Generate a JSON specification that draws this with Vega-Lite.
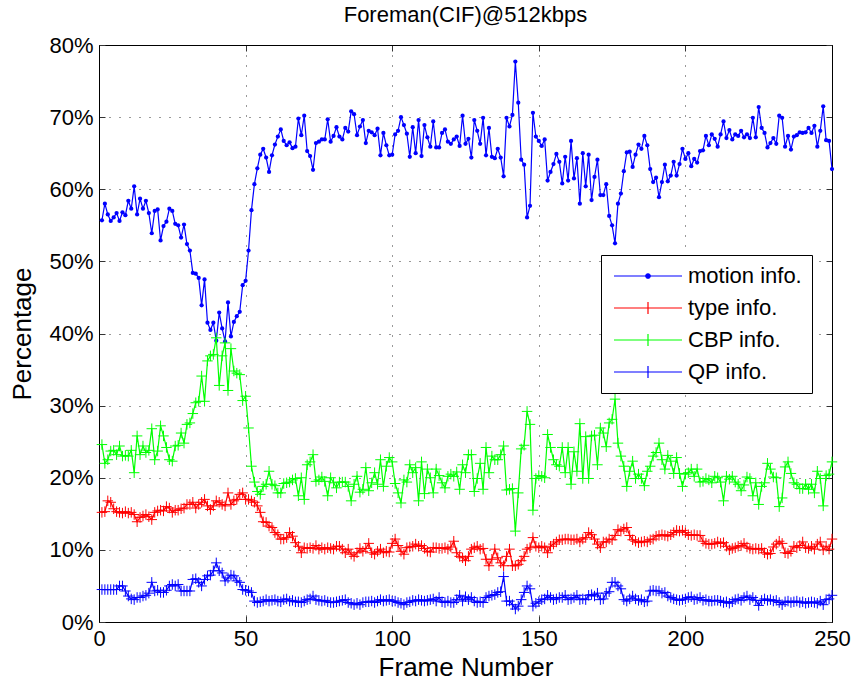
{
"$schema": "https://vega.github.io/schema/vega-lite/v6.json",
"width": 733, "height": 577,
"autosize": {"type": "none"},
"padding": {"left": 99, "top": 45, "right": 19, "bottom": 67},
"background": "white",
"config": {"view": {"stroke": "black", "strokeWidth": 1}, "font": "Liberation Sans"},
"title": {"text": "Foreman(CIF)@512kbps", "fontSize": 22, "font": "Liberation Sans", "fontWeight": "normal", "color": "black", "offset": 7},
"datasets": {
"m": [{"f":1,"v":55.7},{"f":2,"v":58.0},{"f":3,"v":56.5},{"f":4,"v":55.6},{"f":5,"v":56.1},{"f":6,"v":56.7},{"f":7,"v":55.6},{"f":8,"v":56.8},{"f":9,"v":56.4},{"f":10,"v":58.4},
{"f":11,"v":57.3},{"f":12,"v":60.4},{"f":13,"v":56.5},{"f":14,"v":58.7},{"f":15,"v":57.3},{"f":16,"v":58.4},{"f":17,"v":56.7},{"f":18,"v":53.9},{"f":19,"v":57.0},{"f":20,"v":57.2},
{"f":21,"v":52.9},{"f":22,"v":54.9},{"f":23,"v":55.5},{"f":24,"v":57.3},{"f":25,"v":57.0},{"f":26,"v":55.2},{"f":27,"v":55.0},{"f":28,"v":53.3},{"f":29,"v":55.1},{"f":30,"v":52.4},
{"f":31,"v":51.5},{"f":32,"v":48.4},{"f":33,"v":48.3},{"f":34,"v":47.7},{"f":35,"v":43.9},{"f":36,"v":47.5},{"f":37,"v":41.5},{"f":38,"v":40.5},{"f":39,"v":41.5},{"f":40,"v":39.0},
{"f":41,"v":42.9},{"f":42,"v":40.7},{"f":43,"v":38.9},{"f":44,"v":44.3},{"f":45,"v":39.6},{"f":46,"v":41.6},{"f":47,"v":42.4},{"f":48,"v":43.0},{"f":49,"v":46.7},{"f":50,"v":47.3},
{"f":51,"v":51.5},{"f":52,"v":57.1},{"f":53,"v":60.7},{"f":54,"v":62.9},{"f":55,"v":64.8},{"f":56,"v":65.6},{"f":57,"v":64.4},{"f":58,"v":62.4},{"f":59,"v":64.7},{"f":60,"v":66.2},
{"f":61,"v":67.3},{"f":62,"v":68.3},{"f":63,"v":66.7},{"f":64,"v":66.1},{"f":65,"v":66.5},{"f":66,"v":65.7},{"f":67,"v":65.9},{"f":68,"v":69.8},{"f":69,"v":67.5},{"f":70,"v":70.2},
{"f":71,"v":65.3},{"f":72,"v":64.6},{"f":73,"v":62.7},{"f":74,"v":66.4},{"f":75,"v":66.6},{"f":76,"v":66.9},{"f":77,"v":66.9},{"f":78,"v":69.7},{"f":79,"v":66.6},{"f":80,"v":67.4},
{"f":81,"v":68.6},{"f":82,"v":67.3},{"f":83,"v":66.9},{"f":84,"v":68.5},{"f":85,"v":68.0},{"f":86,"v":70.8},{"f":87,"v":70.4},{"f":88,"v":67.5},{"f":89,"v":68.7},{"f":90,"v":69.6},
{"f":91,"v":66.4},{"f":92,"v":68.1},{"f":93,"v":67.9},{"f":94,"v":67.5},{"f":95,"v":68.4},{"f":96,"v":64.7},{"f":97,"v":67.8},{"f":98,"v":66.1},{"f":99,"v":64.7},{"f":100,"v":64.8},
{"f":101,"v":67.6},{"f":102,"v":68.1},{"f":103,"v":70.0},{"f":104,"v":68.9},{"f":105,"v":67.7},{"f":106,"v":64.5},{"f":107,"v":68.6},{"f":108,"v":65.0},{"f":109,"v":69.6},{"f":110,"v":64.6},
{"f":111,"v":68.9},{"f":112,"v":67.2},{"f":113,"v":65.9},{"f":114,"v":69.4},{"f":115,"v":65.8},{"f":116,"v":65.8},{"f":117,"v":67.8},{"f":118,"v":68.3},{"f":119,"v":66.6},{"f":120,"v":66.3},
{"f":121,"v":66.9},{"f":122,"v":67.3},{"f":123,"v":66.0},{"f":124,"v":70.2},{"f":125,"v":66.3},{"f":126,"v":67.0},{"f":127,"v":64.4},{"f":128,"v":69.6},{"f":129,"v":68.1},{"f":130,"v":66.3},
{"f":131,"v":69.9},{"f":132,"v":64.7},{"f":133,"v":68.5},{"f":134,"v":64.5},{"f":135,"v":64.3},{"f":136,"v":65.6},{"f":137,"v":64.4},{"f":138,"v":61.8},{"f":139,"v":69.9},{"f":140,"v":68.7},
{"f":141,"v":70.3},{"f":142,"v":77.7},{"f":143,"v":72.0},{"f":144,"v":64.1},{"f":145,"v":63.4},{"f":146,"v":56.1},{"f":147,"v":57.7},{"f":148,"v":70.6},{"f":149,"v":67.3},{"f":150,"v":66.7},
{"f":151,"v":66.0},{"f":152,"v":66.9},{"f":153,"v":61.2},{"f":154,"v":62.4},{"f":155,"v":63.5},{"f":156,"v":64.9},{"f":157,"v":63.8},{"f":158,"v":60.8},{"f":159,"v":64.5},{"f":160,"v":61.2},
{"f":161,"v":66.7},{"f":162,"v":61.5},{"f":163,"v":64.3},{"f":164,"v":58.0},{"f":165,"v":65.0},{"f":166,"v":60.4},{"f":167,"v":64.8},{"f":168,"v":58.5},{"f":169,"v":61.7},{"f":170,"v":64.1},
{"f":171,"v":59.2},{"f":172,"v":59.2},{"f":173,"v":60.7},{"f":174,"v":56.3},{"f":175,"v":55.0},{"f":176,"v":52.5},{"f":177,"v":58.0},{"f":178,"v":59.4},{"f":179,"v":62.5},{"f":180,"v":65.1},
{"f":181,"v":65.2},{"f":182,"v":63.1},{"f":183,"v":64.8},{"f":184,"v":66.2},{"f":185,"v":65.6},{"f":186,"v":67.4},{"f":187,"v":66.1},{"f":188,"v":62.8},{"f":189,"v":61.0},{"f":190,"v":61.6},
{"f":191,"v":58.9},{"f":192,"v":61.0},{"f":193,"v":63.4},{"f":194,"v":61.1},{"f":195,"v":61.9},{"f":196,"v":63.8},{"f":197,"v":61.9},{"f":198,"v":63.5},{"f":199,"v":65.6},{"f":200,"v":64.2},
{"f":201,"v":65.0},{"f":202,"v":63.2},{"f":203,"v":64.2},{"f":204,"v":63.7},{"f":205,"v":65.3},{"f":206,"v":65.4},{"f":207,"v":67.4},{"f":208,"v":66.1},{"f":209,"v":67.6},{"f":210,"v":67.0},
{"f":211,"v":65.9},{"f":212,"v":67.6},{"f":213,"v":69.4},{"f":214,"v":67.1},{"f":215,"v":68.2},{"f":216,"v":66.9},{"f":217,"v":67.6},{"f":218,"v":67.4},{"f":219,"v":68.1},{"f":220,"v":67.2},
{"f":221,"v":67.6},{"f":222,"v":67.1},{"f":223,"v":69.9},{"f":224,"v":67.2},{"f":225,"v":71.4},{"f":226,"v":68.5},{"f":227,"v":67.8},{"f":228,"v":65.8},{"f":229,"v":66.4},{"f":230,"v":67.1},
{"f":231,"v":66.3},{"f":232,"v":70.2},{"f":233,"v":69.9},{"f":234,"v":65.9},{"f":235,"v":67.4},{"f":236,"v":65.5},{"f":237,"v":67.3},{"f":238,"v":67.5},{"f":239,"v":67.9},{"f":240,"v":67.8},
{"f":241,"v":67.9},{"f":242,"v":68.5},{"f":243,"v":67.8},{"f":244,"v":68.8},{"f":245,"v":65.9},{"f":246,"v":68.1},{"f":247,"v":71.5},{"f":248,"v":66.8},{"f":249,"v":66.7},{"f":250,"v":62.8}],
"t": [{"f":1,"v":15.2},{"f":2,"v":15.3},{"f":3,"v":16.8},{"f":4,"v":16.6},{"f":5,"v":15.7},{"f":6,"v":15.3},{"f":7,"v":15.2},{"f":8,"v":15.1},{"f":9,"v":15.3},{"f":10,"v":15.1},
{"f":11,"v":15.2},{"f":12,"v":14.9},{"f":13,"v":13.9},{"f":14,"v":14.5},{"f":15,"v":14.7},{"f":16,"v":14.9},{"f":17,"v":14.6},{"f":18,"v":14.2},{"f":19,"v":15.2},{"f":20,"v":15.4},
{"f":21,"v":15.5},{"f":22,"v":15.4},{"f":23,"v":16.0},{"f":24,"v":15.8},{"f":25,"v":15.2},{"f":26,"v":15.5},{"f":27,"v":15.5},{"f":28,"v":15.7},{"f":29,"v":15.8},{"f":30,"v":16.3},
{"f":31,"v":16.3},{"f":32,"v":16.6},{"f":33,"v":15.8},{"f":34,"v":16.3},{"f":35,"v":16.6},{"f":36,"v":17.0},{"f":37,"v":16.1},{"f":38,"v":15.6},{"f":39,"v":16.1},{"f":40,"v":16.8},
{"f":41,"v":16.6},{"f":42,"v":16.3},{"f":43,"v":16.1},{"f":44,"v":17.9},{"f":45,"v":16.3},{"f":46,"v":16.8},{"f":47,"v":17.0},{"f":48,"v":17.7},{"f":49,"v":17.9},{"f":50,"v":17.0},
{"f":51,"v":17.0},{"f":52,"v":16.8},{"f":53,"v":16.6},{"f":54,"v":16.1},{"f":55,"v":15.2},{"f":56,"v":13.9},{"f":57,"v":13.8},{"f":58,"v":13.3},{"f":59,"v":13.1},{"f":60,"v":12.4},
{"f":61,"v":12.1},{"f":62,"v":11.5},{"f":63,"v":11.5},{"f":64,"v":11.7},{"f":65,"v":12.4},{"f":66,"v":11.9},{"f":67,"v":11.0},{"f":68,"v":10.5},{"f":69,"v":9.6},{"f":70,"v":10.3},
{"f":71,"v":10.2},{"f":72,"v":10.3},{"f":73,"v":10.2},{"f":74,"v":10.6},{"f":75,"v":10.1},{"f":76,"v":10.3},{"f":77,"v":10.1},{"f":78,"v":10.3},{"f":79,"v":10.2},{"f":80,"v":10.1},
{"f":81,"v":10.5},{"f":82,"v":10.5},{"f":83,"v":10.1},{"f":84,"v":9.6},{"f":85,"v":10.1},{"f":86,"v":9.4},{"f":87,"v":9.1},{"f":88,"v":9.6},{"f":89,"v":10.2},{"f":90,"v":9.8},
{"f":91,"v":10.2},{"f":92,"v":10.9},{"f":93,"v":9.6},{"f":94,"v":9.4},{"f":95,"v":9.8},{"f":96,"v":10.1},{"f":97,"v":9.6},{"f":98,"v":9.8},{"f":99,"v":9.7},{"f":100,"v":10.9},
{"f":101,"v":11.5},{"f":102,"v":10.6},{"f":103,"v":9.8},{"f":104,"v":9.4},{"f":105,"v":10.3},{"f":106,"v":10.4},{"f":107,"v":10.5},{"f":108,"v":10.8},{"f":109,"v":10.5},{"f":110,"v":10.6},
{"f":111,"v":10.2},{"f":112,"v":9.8},{"f":113,"v":9.7},{"f":114,"v":10.3},{"f":115,"v":10.3},{"f":116,"v":10.2},{"f":117,"v":10.2},{"f":118,"v":10.3},{"f":119,"v":10.1},{"f":120,"v":10.4},
{"f":121,"v":11.2},{"f":122,"v":9.6},{"f":123,"v":9.1},{"f":124,"v":8.9},{"f":125,"v":8.5},{"f":126,"v":9.1},{"f":127,"v":10.1},{"f":128,"v":10.3},{"f":129,"v":10.5},{"f":130,"v":10.1},
{"f":131,"v":10.2},{"f":132,"v":8.7},{"f":133,"v":7.8},{"f":134,"v":8.7},{"f":135,"v":10.1},{"f":136,"v":8.9},{"f":137,"v":8.2},{"f":138,"v":7.8},{"f":139,"v":9.1},{"f":140,"v":10.1},
{"f":141,"v":7.8},{"f":142,"v":7.8},{"f":143,"v":8.0},{"f":144,"v":8.5},{"f":145,"v":9.1},{"f":146,"v":10.1},{"f":147,"v":10.3},{"f":148,"v":11.7},{"f":149,"v":10.5},{"f":150,"v":10.3},
{"f":151,"v":10.5},{"f":152,"v":10.3},{"f":153,"v":9.6},{"f":154,"v":10.5},{"f":155,"v":10.8},{"f":156,"v":11.1},{"f":157,"v":11.4},{"f":158,"v":11.4},{"f":159,"v":11.5},{"f":160,"v":11.5},
{"f":161,"v":11.4},{"f":162,"v":11.4},{"f":163,"v":11.5},{"f":164,"v":11.1},{"f":165,"v":11.5},{"f":166,"v":11.7},{"f":167,"v":12.4},{"f":168,"v":12.1},{"f":169,"v":11.5},{"f":170,"v":10.8},
{"f":171,"v":10.3},{"f":172,"v":11.1},{"f":173,"v":11.1},{"f":174,"v":11.5},{"f":175,"v":11.4},{"f":176,"v":12.0},{"f":177,"v":12.8},{"f":178,"v":12.6},{"f":179,"v":12.9},{"f":180,"v":13.1},
{"f":181,"v":12.0},{"f":182,"v":11.4},{"f":183,"v":11.2},{"f":184,"v":11.0},{"f":185,"v":11.1},{"f":186,"v":11.2},{"f":187,"v":11.1},{"f":188,"v":11.4},{"f":189,"v":11.5},{"f":190,"v":11.9},
{"f":191,"v":12.0},{"f":192,"v":12.1},{"f":193,"v":12.0},{"f":194,"v":11.9},{"f":195,"v":12.1},{"f":196,"v":12.4},{"f":197,"v":12.7},{"f":198,"v":12.6},{"f":199,"v":12.7},{"f":200,"v":12.4},
{"f":201,"v":12.1},{"f":202,"v":12.0},{"f":203,"v":12.1},{"f":204,"v":12.0},{"f":205,"v":12.0},{"f":206,"v":11.2},{"f":207,"v":10.9},{"f":208,"v":10.8},{"f":209,"v":10.8},{"f":210,"v":10.9},
{"f":211,"v":11.1},{"f":212,"v":10.9},{"f":213,"v":11.0},{"f":214,"v":10.5},{"f":215,"v":10.0},{"f":216,"v":10.2},{"f":217,"v":10.3},{"f":218,"v":10.5},{"f":219,"v":10.6},{"f":220,"v":10.9},
{"f":221,"v":10.4},{"f":222,"v":10.2},{"f":223,"v":10.1},{"f":224,"v":10.2},{"f":225,"v":10.1},{"f":226,"v":10.2},{"f":227,"v":9.6},{"f":228,"v":9.4},{"f":229,"v":9.5},{"f":230,"v":10.4},
{"f":231,"v":10.8},{"f":232,"v":11.2},{"f":233,"v":10.9},{"f":234,"v":9.6},{"f":235,"v":9.5},{"f":236,"v":9.8},{"f":237,"v":10.5},{"f":238,"v":10.3},{"f":239,"v":10.6},{"f":240,"v":11.1},
{"f":241,"v":10.3},{"f":242,"v":10.2},{"f":243,"v":10.5},{"f":244,"v":10.1},{"f":245,"v":10.8},{"f":246,"v":11.1},{"f":247,"v":10.0},{"f":248,"v":10.5},{"f":249,"v":10.1},{"f":250,"v":11.5}],
"c": [{"f":1,"v":24.6},{"f":2,"v":22.0},{"f":3,"v":22.5},{"f":4,"v":23.7},{"f":5,"v":23.8},{"f":6,"v":23.2},{"f":7,"v":24.4},{"f":8,"v":23.0},{"f":9,"v":23.1},{"f":10,"v":23.0},
{"f":11,"v":23.8},{"f":12,"v":20.7},{"f":13,"v":25.8},{"f":14,"v":23.2},{"f":15,"v":24.4},{"f":16,"v":23.5},{"f":17,"v":23.8},{"f":18,"v":26.8},{"f":19,"v":22.5},{"f":20,"v":23.7},
{"f":21,"v":27.2},{"f":22,"v":25.8},{"f":23,"v":24.2},{"f":24,"v":22.5},{"f":25,"v":22.3},{"f":26,"v":24.4},{"f":27,"v":24.5},{"f":28,"v":26.2},{"f":29,"v":24.8},{"f":30,"v":27.4},
{"f":31,"v":27.6},{"f":32,"v":28.9},{"f":33,"v":30.4},{"f":34,"v":30.6},{"f":35,"v":34.1},{"f":36,"v":30.6},{"f":37,"v":36.2},{"f":38,"v":36.9},{"f":39,"v":37.1},{"f":40,"v":39.4},
{"f":41,"v":32.8},{"f":42,"v":36.9},{"f":43,"v":38.7},{"f":44,"v":32.1},{"f":45,"v":37.9},{"f":46,"v":34.8},{"f":47,"v":34.5},{"f":48,"v":34.3},{"f":49,"v":30.7},{"f":50,"v":31.3},
{"f":51,"v":26.9},{"f":52,"v":21.6},{"f":53,"v":19.4},{"f":54,"v":18.1},{"f":55,"v":17.7},{"f":56,"v":18.8},{"f":57,"v":19.1},{"f":58,"v":20.9},{"f":59,"v":19.1},{"f":60,"v":18.9},
{"f":61,"v":17.9},{"f":62,"v":17.9},{"f":63,"v":19.2},{"f":64,"v":19.3},{"f":65,"v":19.4},{"f":66,"v":19.7},{"f":67,"v":19.9},{"f":68,"v":17.5},{"f":69,"v":20.0},{"f":70,"v":17.0},
{"f":71,"v":21.8},{"f":72,"v":22.2},{"f":73,"v":23.2},{"f":74,"v":19.5},{"f":75,"v":19.7},{"f":76,"v":20.1},{"f":77,"v":19.5},{"f":78,"v":17.5},{"f":79,"v":20.0},{"f":80,"v":19.3},
{"f":81,"v":18.6},{"f":82,"v":19.4},{"f":83,"v":19.4},{"f":84,"v":19.4},{"f":85,"v":18.8},{"f":86,"v":16.8},{"f":87,"v":19.1},{"f":88,"v":20.2},{"f":89,"v":18.0},{"f":90,"v":18.4},
{"f":91,"v":21.4},{"f":92,"v":18.2},{"f":93,"v":19.3},{"f":94,"v":20.7},{"f":95,"v":19.1},{"f":96,"v":22.5},{"f":97,"v":18.8},{"f":98,"v":21.6},{"f":99,"v":22.8},{"f":100,"v":22.2},
{"f":101,"v":19.2},{"f":102,"v":17.9},{"f":103,"v":16.5},{"f":104,"v":19.7},{"f":105,"v":19.4},{"f":106,"v":21.8},{"f":107,"v":20.7},{"f":108,"v":21.4},{"f":109,"v":16.8},{"f":110,"v":22.2},
{"f":111,"v":17.8},{"f":112,"v":21.2},{"f":113,"v":20.0},{"f":114,"v":17.9},{"f":115,"v":21.2},{"f":116,"v":20.3},{"f":117,"v":19.3},{"f":118,"v":18.6},{"f":119,"v":20.2},{"f":120,"v":20.5},
{"f":121,"v":20.2},{"f":122,"v":20.8},{"f":123,"v":18.4},{"f":124,"v":21.8},{"f":125,"v":20.7},{"f":126,"v":23.2},{"f":127,"v":23.2},{"f":128,"v":18.1},{"f":129,"v":19.9},{"f":130,"v":22.0},
{"f":131,"v":18.4},{"f":132,"v":24.2},{"f":133,"v":20.7},{"f":134,"v":23.0},{"f":135,"v":22.5},{"f":136,"v":22.5},{"f":137,"v":23.2},{"f":138,"v":24.4},{"f":139,"v":18.3},{"f":140,"v":18.4},
{"f":141,"v":18.5},{"f":142,"v":12.6},{"f":143,"v":17.9},{"f":144,"v":24.0},{"f":145,"v":24.5},{"f":146,"v":29.2},{"f":147,"v":27.4},{"f":148,"v":15.5},{"f":149,"v":19.9},{"f":150,"v":20.3},
{"f":151,"v":20.2},{"f":152,"v":20.0},{"f":153,"v":26.0},{"f":154,"v":24.2},{"f":155,"v":22.5},{"f":156,"v":21.8},{"f":157,"v":21.6},{"f":158,"v":24.2},{"f":159,"v":20.7},{"f":160,"v":24.2},
{"f":161,"v":19.1},{"f":162,"v":23.6},{"f":163,"v":20.9},{"f":164,"v":27.5},{"f":165,"v":19.9},{"f":166,"v":25.7},{"f":167,"v":19.9},{"f":168,"v":25.8},{"f":169,"v":25.9},{"f":170,"v":21.8},
{"f":171,"v":26.9},{"f":172,"v":26.2},{"f":173,"v":24.3},{"f":174,"v":27.6},{"f":175,"v":28.1},{"f":176,"v":30.9},{"f":177,"v":24.8},{"f":178,"v":23.0},{"f":179,"v":21.6},{"f":180,"v":18.8},
{"f":181,"v":20.9},{"f":182,"v":22.3},{"f":183,"v":19.9},{"f":184,"v":20.5},{"f":185,"v":19.9},{"f":186,"v":18.9},{"f":187,"v":20.9},{"f":188,"v":21.6},{"f":189,"v":23.0},{"f":190,"v":23.5},
{"f":191,"v":24.8},{"f":192,"v":22.5},{"f":193,"v":21.2},{"f":194,"v":23.1},{"f":195,"v":22.3},{"f":196,"v":20.6},{"f":197,"v":22.8},{"f":198,"v":20.6},{"f":199,"v":18.8},{"f":200,"v":20.5},
{"f":201,"v":20.7},{"f":202,"v":21.2},{"f":203,"v":20.2},{"f":204,"v":21.2},{"f":205,"v":19.4},{"f":206,"v":19.5},{"f":207,"v":19.9},{"f":208,"v":19.7},{"f":209,"v":19.3},{"f":210,"v":20.2},
{"f":211,"v":20.0},{"f":212,"v":19.4},{"f":213,"v":16.8},{"f":214,"v":20.2},{"f":215,"v":19.8},{"f":216,"v":20.2},{"f":217,"v":19.4},{"f":218,"v":19.1},{"f":219,"v":18.2},{"f":220,"v":19.0},
{"f":221,"v":20.1},{"f":222,"v":19.9},{"f":223,"v":17.5},{"f":224,"v":19.3},{"f":225,"v":16.3},{"f":226,"v":18.8},{"f":227,"v":19.3},{"f":228,"v":22.0},{"f":229,"v":21.2},{"f":230,"v":20.1},
{"f":231,"v":20.0},{"f":232,"v":16.0},{"f":233,"v":17.2},{"f":234,"v":21.5},{"f":235,"v":22.2},{"f":236,"v":20.6},{"f":237,"v":19.3},{"f":238,"v":19.1},{"f":239,"v":18.5},{"f":240,"v":18.5},
{"f":241,"v":19.1},{"f":242,"v":18.4},{"f":243,"v":19.1},{"f":244,"v":17.9},{"f":245,"v":20.9},{"f":246,"v":19.9},{"f":247,"v":16.1},{"f":248,"v":20.3},{"f":249,"v":20.5},{"f":250,"v":22.2}],
"q": [{"f":1,"v":4.5},{"f":2,"v":4.5},{"f":3,"v":4.5},{"f":4,"v":4.5},{"f":5,"v":4.5},{"f":6,"v":4.5},{"f":7,"v":5.0},{"f":8,"v":5.0},{"f":9,"v":4.3},{"f":10,"v":3.6},
{"f":11,"v":3.2},{"f":12,"v":3.1},{"f":13,"v":3.4},{"f":14,"v":3.4},{"f":15,"v":3.6},{"f":16,"v":3.7},{"f":17,"v":4.0},{"f":18,"v":5.5},{"f":19,"v":4.3},{"f":20,"v":4.4},
{"f":21,"v":4.1},{"f":22,"v":4.1},{"f":23,"v":4.4},{"f":24,"v":5.0},{"f":25,"v":5.2},{"f":26,"v":5.0},{"f":27,"v":5.2},{"f":28,"v":4.3},{"f":29,"v":4.3},{"f":30,"v":4.3},
{"f":31,"v":4.3},{"f":32,"v":5.9},{"f":33,"v":6.0},{"f":34,"v":5.5},{"f":35,"v":5.0},{"f":36,"v":5.9},{"f":37,"v":6.4},{"f":38,"v":6.5},{"f":39,"v":7.1},{"f":40,"v":8.2},
{"f":41,"v":7.1},{"f":42,"v":6.8},{"f":43,"v":5.7},{"f":44,"v":6.1},{"f":45,"v":6.5},{"f":46,"v":6.4},{"f":47,"v":5.7},{"f":48,"v":5.5},{"f":49,"v":4.5},{"f":50,"v":4.4},
{"f":51,"v":4.3},{"f":52,"v":4.1},{"f":53,"v":2.9},{"f":54,"v":2.7},{"f":55,"v":2.8},{"f":56,"v":2.9},{"f":57,"v":3.1},{"f":58,"v":2.9},{"f":59,"v":3.0},{"f":60,"v":3.1},
{"f":61,"v":2.9},{"f":62,"v":2.8},{"f":63,"v":3.1},{"f":64,"v":3.2},{"f":65,"v":2.9},{"f":66,"v":3.0},{"f":67,"v":2.8},{"f":68,"v":2.8},{"f":69,"v":2.7},{"f":70,"v":2.9},
{"f":71,"v":3.1},{"f":72,"v":3.2},{"f":73,"v":3.6},{"f":74,"v":3.1},{"f":75,"v":3.0},{"f":76,"v":2.9},{"f":77,"v":3.0},{"f":78,"v":2.8},{"f":79,"v":2.7},{"f":80,"v":2.7},
{"f":81,"v":2.8},{"f":82,"v":2.9},{"f":83,"v":3.0},{"f":84,"v":3.1},{"f":85,"v":2.7},{"f":86,"v":2.6},{"f":87,"v":2.4},{"f":88,"v":2.6},{"f":89,"v":2.4},{"f":90,"v":2.7},
{"f":91,"v":2.8},{"f":92,"v":2.8},{"f":93,"v":2.9},{"f":94,"v":2.7},{"f":95,"v":2.9},{"f":96,"v":3.1},{"f":97,"v":2.9},{"f":98,"v":3.0},{"f":99,"v":3.1},{"f":100,"v":2.9},
{"f":101,"v":2.9},{"f":102,"v":2.7},{"f":103,"v":2.6},{"f":104,"v":2.4},{"f":105,"v":2.7},{"f":106,"v":2.8},{"f":107,"v":3.0},{"f":108,"v":2.9},{"f":109,"v":3.1},{"f":110,"v":3.0},
{"f":111,"v":2.9},{"f":112,"v":3.0},{"f":113,"v":3.1},{"f":114,"v":3.2},{"f":115,"v":2.9},{"f":116,"v":3.4},{"f":117,"v":2.8},{"f":118,"v":2.7},{"f":119,"v":2.9},{"f":120,"v":2.7},
{"f":121,"v":2.7},{"f":122,"v":3.1},{"f":123,"v":3.7},{"f":124,"v":2.9},{"f":125,"v":3.5},{"f":126,"v":3.1},{"f":127,"v":3.4},{"f":128,"v":2.9},{"f":129,"v":2.7},{"f":130,"v":2.8},
{"f":131,"v":2.7},{"f":132,"v":3.4},{"f":133,"v":3.6},{"f":134,"v":3.7},{"f":135,"v":3.8},{"f":136,"v":4.1},{"f":137,"v":4.2},{"f":138,"v":6.3},{"f":139,"v":2.9},{"f":140,"v":2.9},
{"f":141,"v":2.4},{"f":142,"v":1.8},{"f":143,"v":2.2},{"f":144,"v":3.1},{"f":145,"v":4.1},{"f":146,"v":5.0},{"f":147,"v":4.6},{"f":148,"v":2.2},{"f":149,"v":2.6},{"f":150,"v":2.8},
{"f":151,"v":3.1},{"f":152,"v":3.2},{"f":153,"v":3.7},{"f":154,"v":3.4},{"f":155,"v":3.1},{"f":156,"v":3.2},{"f":157,"v":3.4},{"f":158,"v":3.4},{"f":159,"v":3.7},{"f":160,"v":3.1},
{"f":161,"v":3.2},{"f":162,"v":3.4},{"f":163,"v":3.7},{"f":164,"v":3.1},{"f":165,"v":3.2},{"f":166,"v":3.1},{"f":167,"v":3.7},{"f":168,"v":3.8},{"f":169,"v":3.6},{"f":170,"v":4.0},
{"f":171,"v":3.1},{"f":172,"v":3.2},{"f":173,"v":4.0},{"f":174,"v":4.2},{"f":175,"v":5.5},{"f":176,"v":5.5},{"f":177,"v":5.0},{"f":178,"v":4.6},{"f":179,"v":3.1},{"f":180,"v":2.9},
{"f":181,"v":3.2},{"f":182,"v":3.6},{"f":183,"v":3.2},{"f":184,"v":3.0},{"f":185,"v":3.1},{"f":186,"v":2.8},{"f":187,"v":2.9},{"f":188,"v":4.3},{"f":189,"v":4.4},{"f":190,"v":4.3},
{"f":191,"v":4.3},{"f":192,"v":4.0},{"f":193,"v":4.1},{"f":194,"v":3.6},{"f":195,"v":3.4},{"f":196,"v":3.2},{"f":197,"v":3.1},{"f":198,"v":3.0},{"f":199,"v":3.1},{"f":200,"v":3.2},
{"f":201,"v":3.4},{"f":202,"v":3.5},{"f":203,"v":3.1},{"f":204,"v":3.2},{"f":205,"v":3.4},{"f":206,"v":3.0},{"f":207,"v":3.1},{"f":208,"v":2.9},{"f":209,"v":2.9},{"f":210,"v":3.0},
{"f":211,"v":3.0},{"f":212,"v":2.9},{"f":213,"v":2.7},{"f":214,"v":2.8},{"f":215,"v":2.6},{"f":216,"v":2.8},{"f":217,"v":3.1},{"f":218,"v":3.2},{"f":219,"v":3.0},{"f":220,"v":3.4},
{"f":221,"v":3.6},{"f":222,"v":3.1},{"f":223,"v":3.4},{"f":224,"v":3.0},{"f":225,"v":2.3},{"f":226,"v":3.0},{"f":227,"v":3.2},{"f":228,"v":3.0},{"f":229,"v":3.1},{"f":230,"v":2.9},
{"f":231,"v":3.0},{"f":232,"v":2.7},{"f":233,"v":2.4},{"f":234,"v":2.8},{"f":235,"v":2.9},{"f":236,"v":2.7},{"f":237,"v":2.8},{"f":238,"v":2.9},{"f":239,"v":2.7},{"f":240,"v":2.8},
{"f":241,"v":2.6},{"f":242,"v":2.7},{"f":243,"v":2.8},{"f":244,"v":2.7},{"f":245,"v":2.6},{"f":246,"v":2.9},{"f":247,"v":2.4},{"f":248,"v":3.1},{"f":249,"v":3.2},{"f":250,"v":3.7}]
},
"layer": [
{"data": {"name": "m"},
 "mark": {"type": "line", "strokeWidth": 1.2, "point": {"filled": true, "size": 18}},
 "encoding": {
  "x": {"field": "f", "type": "quantitative", "scale": {"domain": [0, 250], "nice": false, "zero": false},
        "axis": {"orient": "bottom", "values": [0, 50, 100, 150, 200, 250], "title": "Frame Number", "grid": true, "gridDash": [1, 9], "gridColor": "#333333", "gridOpacity": 1, "gridWidth": 1,
                 "domainColor": "black", "tickColor": "#333333", "tickSize": -6, "labelPadding": 12, "labelFontSize": 22, "labelColor": "black", "labelFont": "Liberation Sans", "labelFlush": false, "labelOverlap": false,
                 "titleFontSize": 26, "titleFontWeight": "normal", "titleColor": "black", "titleFont": "Liberation Sans", "titlePadding": 5}},
  "y": {"field": "v", "type": "quantitative", "scale": {"domain": [0, 80], "nice": false},
        "axis": {"orient": "left", "values": [0, 10, 20, 30, 40, 50, 60, 70, 80], "labelExpr": "datum.value + '%'", "title": "Percentage", "grid": true, "gridDash": [1, 9], "gridColor": "#333333", "gridOpacity": 1, "gridWidth": 1,
                 "domainColor": "black", "tickColor": "#333333", "tickSize": -6, "labelPadding": 12, "labelFontSize": 22, "labelColor": "black", "labelFont": "Liberation Sans", "labelFlush": false, "labelOverlap": false,
                 "titleFontSize": 26, "titleFontWeight": "normal", "titleColor": "black", "titleFont": "Liberation Sans", "titlePadding": 13}},
  "color": {"datum": "m", "type": "nominal",
            "scale": {"domain": ["m", "t", "c", "q"], "range": ["#0000ff", "#ff0000", "#00ff00", "#0000ff"]},
            "legend": {"orient": "none", "legendX": 502, "legendY": 210, "title": null, "direction": "vertical",
                       "strokeColor": "black", "fillColor": "white", "padding": 10, "cornerRadius": 0,
                       "labelFont": "Liberation Sans", "labelFontSize": 22, "labelColor": "black",
                       "symbolSize": 100, "symbolStrokeWidth": 1.2, "symbolOffset": 26, "labelOffset": 29, "rowPadding": 10,
                       "labelExpr": "datum.label == 'm' ? 'motion info.' : datum.label == 't' ? 'type info.' : datum.label == 'c' ? 'CBP info.' : 'QP info.'",
                       "encode": {"symbols": {"update": {
                          "shape": {"signal": "datum.value == 'm' ? 'M-6.8,0L6.8,0M-0.45,0A0.45,0.45 0 1,0 0.45,0A0.45,0.45 0 1,0 -0.45,0Z' : 'M-6.8,0L6.8,0M0,-1.2L0,1.2'"},
                          "fill": {"signal": "datum.value == 'm' ? '#0000ff' : 'transparent'"},
                          "stroke": {"signal": "datum.value == 't' ? '#ff0000' : datum.value == 'c' ? '#00ff00' : '#0000ff'"},
                          "strokeWidth": {"value": 1.2}, "opacity": {"value": 1}}}}}}
 }},
{"data": {"name": "t"},
 "mark": {"type": "line", "strokeWidth": 1.2, "point": {"shape": "M-1,0L1,0M0,-1L0,1", "filled": false, "size": 110, "strokeWidth": 1}},
 "encoding": {
  "x": {"field": "f", "type": "quantitative", "axis": null},
  "y": {"field": "v", "type": "quantitative", "axis": null},
  "color": {"datum": "t", "type": "nominal"}}},
{"data": {"name": "c"},
 "mark": {"type": "line", "strokeWidth": 1.2, "point": {"shape": "M-1,0L1,0M0,-1L0,1", "filled": false, "size": 110, "strokeWidth": 1}},
 "encoding": {
  "x": {"field": "f", "type": "quantitative", "axis": null},
  "y": {"field": "v", "type": "quantitative", "axis": null},
  "color": {"datum": "c", "type": "nominal"}}},
{"data": {"name": "q"},
 "mark": {"type": "line", "strokeWidth": 1.2, "point": {"shape": "M-1,0L1,0M0,-1L0,1", "filled": false, "size": 110, "strokeWidth": 1}},
 "encoding": {
  "x": {"field": "f", "type": "quantitative", "axis": {"orient": "top", "values": [0, 50, 100, 150, 200, 250], "labels": false, "title": null, "grid": false, "domainColor": "black", "tickColor": "#333333", "tickSize": -6}},
  "y": {"field": "v", "type": "quantitative", "axis": {"orient": "right", "values": [0, 10, 20, 30, 40, 50, 60, 70, 80], "labels": false, "title": null, "grid": false, "domainColor": "black", "tickColor": "#333333", "tickSize": -6}},
  "color": {"datum": "q", "type": "nominal"}}}
],
"resolve": {"axis": {"x": "independent", "y": "independent"}}
}
